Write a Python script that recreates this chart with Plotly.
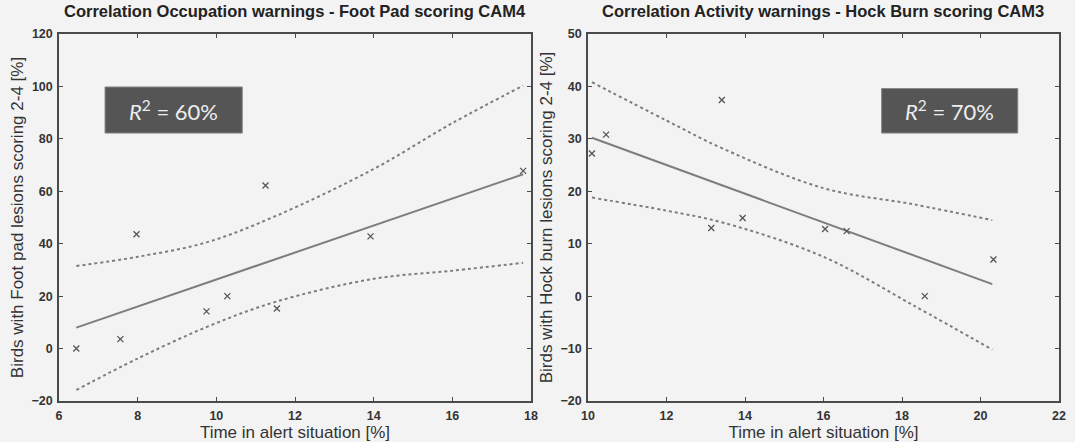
import plotly.graph_objects as go

# ---- Left panel data (Foot Pad, CAM4) ----
fp_x = [6.44, 7.56, 7.97, 9.75, 10.28, 11.25, 11.54, 13.92, 17.8]
fp_y = [0.0, 3.6, 43.6, 14.2, 20.0, 62.2, 15.3, 42.8, 67.8]
fp_fit_x = [6.44, 17.8]
fp_fit_y = [8.0, 66.5]
fp_band_x = [6.44, 8.0, 9.75, 11.5, 14.0, 16.0, 17.8]
fp_upper = [31.5, 35.0, 40.5, 50.5, 68.5, 86.0, 100.3]
fp_lower = [-15.8, -3.8, 8.2, 17.8, 26.6, 29.7, 32.7]

# ---- Right panel data (Hock Burn, CAM3) ----
hb_x = [10.1, 10.46, 13.14, 13.41, 13.94, 16.04, 16.59, 18.58, 20.33]
hb_y = [27.2, 30.8, 13.0, 37.4, 14.9, 12.8, 12.4, 0.0, 7.0]
hb_fit_x = [10.1, 20.3]
hb_fit_y = [30.2, 2.3]
hb_band_x = [10.1, 12.0, 13.45, 16.0, 18.3, 20.3]
hb_upper = [40.8, 33.5, 28.1, 20.6, 17.5, 14.5]
hb_lower = [18.8, 16.3, 14.0, 7.5, -1.8, -10.2]

titles = ["Correlation Occupation warnings - Foot Pad scoring CAM4",
          "Correlation Activity warnings - Hock Burn scoring CAM3"]
ytitles = ["Birds with Foot pad lesions scoring 2-4 [%]",
           "Birds with Hock burn lesions scoring 2-4 [%]"]
xtitle = "Time in alert situation [%]"
r2_texts = ["<i>R</i><sup>2</sup> = 60%", "<i>R</i><sup>2</sup> = 70%"]

LINE = "#7d7d7d"
MARK = "#555555"
AX = "#4a4a4a"
BG = "#f3f3f3"
FONT = "Liberation Sans, Arial"

fig = go.Figure()

def add_panel(xs, ys, fx, fy, bx, bu, bl, xa, ya):
    for b in (bu, bl):
        fig.add_trace(go.Scatter(x=bx, y=b, mode="lines",
                                 line=dict(color=LINE, width=2, dash="dot", shape="spline"),
                                 xaxis=xa, yaxis=ya, showlegend=False, hoverinfo="skip"))
    fig.add_trace(go.Scatter(x=fx, y=fy, mode="lines", line=dict(color=LINE, width=2),
                             xaxis=xa, yaxis=ya, showlegend=False))
    fig.add_trace(go.Scatter(x=xs, y=ys, mode="markers",
                             marker=dict(symbol="x-thin", size=6, line=dict(color=MARK, width=1.3)),
                             xaxis=xa, yaxis=ya, showlegend=False))

add_panel(fp_x, fp_y, fp_fit_x, fp_fit_y, fp_band_x, fp_upper, fp_lower, "x", "y")
add_panel(hb_x, hb_y, hb_fit_x, hb_fit_y, hb_band_x, hb_upper, hb_lower, "x2", "y2")

ax_common = dict(showgrid=False, zeroline=False, showline=True, linecolor=AX, linewidth=1.5,
                 mirror="ticks", ticks="inside", ticklen=4, tickcolor=AX, tickwidth=1.2,
                 automargin=False, ticklabelstandoff=2,
                 tickfont=dict(family=FONT, size=12.5, color="#333333", weight="bold"))
xt_font = dict(family=FONT, size=17, color="#333")

ydom = [1 - 401 / 442, 1 - 34 / 442]
fig.update_layout(
    width=1075, height=442,
    margin=dict(l=0, r=0, t=0, b=0),
    paper_bgcolor=BG, plot_bgcolor=BG,
    xaxis=dict(domain=[59 / 1075, 531 / 1075], range=[6, 18], dtick=2, anchor="y",
               title=dict(text=xtitle, standoff=0, font=xt_font), **ax_common),
    yaxis=dict(domain=ydom, range=[-20, 120], dtick=20, anchor="x",
               title=dict(text=ytitles[0], standoff=4, font=xt_font), **ax_common),
    xaxis2=dict(domain=[588 / 1075, 1059 / 1075], range=[10, 22], dtick=2, anchor="y2",
                title=dict(text=xtitle, standoff=0, font=xt_font), **ax_common),
    yaxis2=dict(domain=ydom, range=[-20, 50], dtick=10, anchor="x2",
                title=dict(text=ytitles[1], standoff=4, font=xt_font), **ax_common),
)

# Titles
for cx, t in zip([295 / 1075, 823 / 1075], titles):
    fig.add_annotation(text=t, xref="paper", yref="paper", x=cx, y=1 - 11 / 442,
                       xanchor="center", yanchor="middle", showarrow=False,
                       font=dict(family=FONT, size=16.5, color="#222", weight="bold"))

# R^2 boxes
boxes = [("x", "y", 7.17, 10.66, 82.2, 99.8), ("x2", "y2", 17.48, 20.95, 31.1, 39.6)]
for (xa, ya, x0, x1, y0, y1), txt in zip(boxes, r2_texts):
    fig.add_shape(type="rect", xref=xa, yref=ya, x0=x0, x1=x1, y0=y0, y1=y1,
                  fillcolor="#555555", line=dict(color="#8a8a8a", width=1))
    fig.add_annotation(text=txt, xref=xa, yref=ya, x=(x0 + x1) / 2, y=(y0 + y1) / 2,
                       showarrow=False, font=dict(family="Lato, Open Sans", size=22, color="#eeeeee"))

fig.write_html("out.html", config={"displayModeBar": False},
               post_script="document.body.style.margin='0px';")
